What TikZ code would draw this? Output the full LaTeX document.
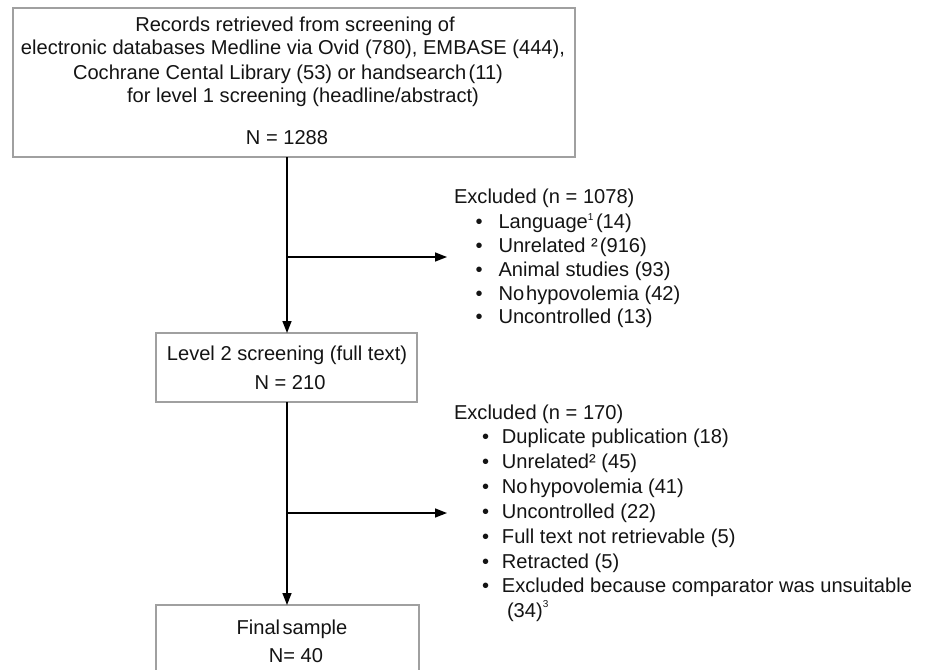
\documentclass[tikz,border=0pt]{standalone}
\usepackage{fontspec}
\setmainfont{Liberation Sans}
\usetikzlibrary{arrows.meta}
\definecolor{boxgray}{RGB}{160,160,160}
\definecolor{ink}{RGB}{20,20,20}
\begin{document}
\begin{tikzpicture}[x=1pt,y=-1pt,
  every node/.style={inner sep=0pt, outer sep=0pt, text=ink, font=\fontsize{20.1}{24}\selectfont},
  box/.style={draw=boxgray, line width=1.5pt, anchor=north west},
  ctxt/.style={anchor=base},
  ltxt/.style={anchor=base west},
  arr/.style={line width=1.5pt, draw=black, -{Triangle[length=12pt,width=9pt]}}]
\clip (0,0) rectangle (928,669);
\fill[white] (0,0) rectangle (928,669);

% boxes
\node[box, minimum width=562pt, minimum height=149pt] (top) at (13,8) {};
\node[box, minimum width=261pt, minimum height=69pt] (lvl) at (156,333) {};
\node[box, minimum width=263pt, minimum height=120pt] (fin) at (156,605) {};

% top box text
\node[ctxt] (t1) at (295,32) {Records retrieved from screening of};
\node[ctxt] (t2) at (293,55) {electronic databases Medline via Ovid (780), EMBASE (444),};
\node[ctxt] (t3) at (288,79) {Cochrane Cental Library (53) or handsearch\hspace{0.12em}(11)};
\node[ctxt] (t4) at (303,102) {for level 1 screening (headline/abstract)};
\node[ctxt] (t5) at (287,144) {N = 1288};

% level 2 text
\node[ctxt] (l1) at (287,360) {Level 2 screening (full text)};
\node[ctxt] (l2) at (290,389) {N = 210};

% final text
\node[ctxt] (f1) at (292,634) {Final\hspace{0.12em}sample};
\node[ctxt] (f2) at (296,662) {N= 40};

% first exclusion list
\node[ltxt] (a0) at (454,203) {Excluded (n = 1078)};
\node[ltxt] (a1) at (475.5,228) {\makebox[23pt][l]{•}Language\textsuperscript{\fontsize{10}{10}\selectfont 1}\hspace{0.1em}(14)};
\node[ltxt] (a2) at (475.5,252) {\makebox[23pt][l]{•}Unrelated ²\hspace{0.1em}(916)};
\node[ltxt] (a3) at (475.5,276) {\makebox[23pt][l]{•}Animal studies (93)};
\node[ltxt] (a4) at (475.5,300) {\makebox[23pt][l]{•}No\hspace{0.1em}hypovolemia (42)};
\node[ltxt] (a5) at (475.5,323) {\makebox[23pt][l]{•}Uncontrolled (13)};

% second exclusion list
\node[ltxt] (b0) at (454,419) {Excluded (n = 170)};
\node[ltxt] (b1) at (482,443) {\makebox[20pt][l]{•}Duplicate publication (18)};
\node[ltxt] (b2) at (482,468) {\makebox[20pt][l]{•}Unrelated² (45)};
\node[ltxt] (b3) at (482,493) {\makebox[20pt][l]{•}No\hspace{0.1em}hypovolemia (41)};
\node[ltxt] (b4) at (482,518) {\makebox[20pt][l]{•}Uncontrolled (22)};
\node[ltxt] (b5) at (482,543) {\makebox[20pt][l]{•}Full text not retrievable (5)};
\node[ltxt] (b6) at (482,568) {\makebox[20pt][l]{•}Retracted (5)};
\node[ltxt] (b7) at (482,592) {\makebox[20pt][l]{•}Excluded because comparator was unsuitable};
\node[ltxt] (b8) at (507,617) {(34)\raisebox{10pt}{\fontsize{10}{10}\selectfont 3}};

% connectors
\coordinate (j1) at (287,257);
\coordinate (e1) at (447,257);
\coordinate (j2) at (287,513);
\coordinate (e2) at (447,513);
\draw[arr] (top.south -| j1) -- (lvl.north -| j1);
\draw[arr] (j1) -- (e1);
\draw[arr] (lvl.south -| j2) -- (fin.north -| j2);
\draw[arr] (j2) -- (e2);
\end{tikzpicture}
\end{document}
